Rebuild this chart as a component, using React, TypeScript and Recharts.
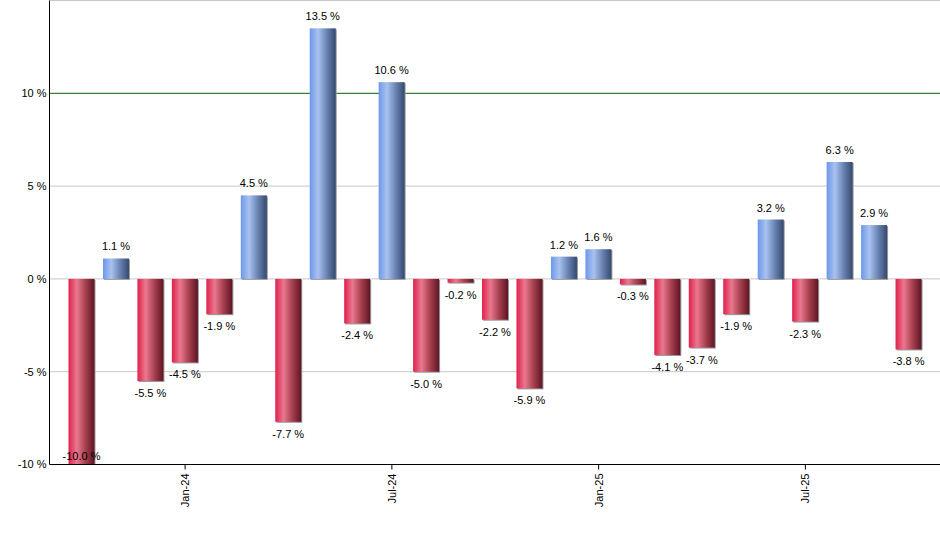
import React from "react";
import { BarChart, Bar, XAxis, YAxis, CartesianGrid, Cell, LabelList } from "recharts";

const months = [
  "Oct-23", "Nov-23", "Dec-23", "Jan-24", "Feb-24", "Mar-24", "Apr-24", "May-24", "Jun-24",
  "Jul-24", "Aug-24", "Sep-24", "Oct-24", "Nov-24", "Dec-24", "Jan-25", "Feb-25", "Mar-25",
  "Apr-25", "May-25", "Jun-25", "Jul-25", "Aug-25", "Sep-25", "Oct-25",
];
const returns = [
  -10.0, 1.1, -5.5, -4.5, -1.9, 4.5, -7.7, 13.5, -2.4, 10.6, -5.0, -0.2, -2.2,
  -5.9, 1.2, 1.6, -0.3, -4.1, -3.7, -1.9, 3.2, -2.3, 6.3, 2.9, -3.8,
];
const labelledMonths = ["Jan-24", "Jul-24", "Jan-25", "Jul-25"];
const yTicks = [-10, -5, 0, 5, 10];

const data = months.map((m, i) => ({ month: m, value: returns[i] }));

const FONT = "'Liberation Sans', Arial, sans-serif";
const PLOT_BOTTOM = 464.5;

function BarShape(props: any) {
  const { x, y, width, height, value } = props;
  const top = Math.min(y, y + height);
  const h = Math.abs(height);
  const fill = value >= 0 ? "url(#gradBlue)" : "url(#gradRed)";
  return (
    <g>
      <rect x={x + 1} y={top + 1} width={width} height={h} fill="#9a9a9a" />
      <rect x={x} y={top} width={width} height={h} fill={fill} />
    </g>
  );
}

function ValueLabel(props: any) {
  const { x, y, width, height, value } = props;
  const top = Math.min(y, y + height);
  const bottom = Math.max(y, y + height);
  const cy = value >= 0 ? top - 12 : Math.min(bottom + 12, PLOT_BOTTOM - 9);
  return (
    <text
      x={x + width / 2}
      y={cy}
      textAnchor="middle"
      dominantBaseline="central"
      fontSize={11}
      fontFamily={FONT}
      fill="#000"
    >
      {`${Number(value).toFixed(1)} %`}
    </text>
  );
}

function MonthTick(props: any) {
  const { x, y, payload } = props;
  if (!labelledMonths.includes(payload.value)) return <g />;
  return (
    <g>
      <line x1={x} y1={y} x2={x} y2={y + 5} stroke="#000" />
      <text
        x={0}
        y={0}
        transform={`translate(${x + 4}, ${y + 9}) rotate(-90)`}
        textAnchor="end"
        fontSize={11}
        fontFamily={FONT}
        fill="#000"
      >
        {payload.value}
      </text>
    </g>
  );
}

export default function App() {
  return (
    <div style={{ position: "absolute", left: 0, top: 0, width: 940, height: 550, background: "#fff" }}>
      <BarChart
        width={940}
        height={550}
        data={data}
        margin={{ top: 0.5, right: 0, bottom: 0, left: 0 }}
        barSize={26}
      >
        <defs>
          <linearGradient id="gradRed" x1="0" y1="0" x2="1" y2="0">
            <stop offset="0%" stopColor="#e0204a" />
            <stop offset="32%" stopColor="#ea7890" />
            <stop offset="65%" stopColor="#a8404f" />
            <stop offset="100%" stopColor="#5e1424" />
          </linearGradient>
          <linearGradient id="gradBlue" x1="0" y1="0" x2="1" y2="0">
            <stop offset="0%" stopColor="#6c98ea" />
            <stop offset="32%" stopColor="#a9c2ef" />
            <stop offset="65%" stopColor="#6a84b4" />
            <stop offset="100%" stopColor="#34496e" />
          </linearGradient>
        </defs>
        <CartesianGrid
          vertical={false}
          stroke="#c8c8c8"
          horizontalValues={[-5, 0, 5, 15]}
        />
        <CartesianGrid vertical={false} stroke="#006400" horizontalValues={[10]} />
        <XAxis
          dataKey="month"
          interval={0}
          tick={<MonthTick />}
          tickLine={false}
          tickSize={0}
          tickMargin={0}
          axisLine={{ stroke: "#000" }}
          height={85.5}
          padding={{ left: 15, right: 14 }}
        />
        <YAxis
          width={49.5}
          domain={[-10, 15]}
          ticks={yTicks}
          allowDataOverflow
          tickFormatter={(v) => `${v} %`}
          tick={{ fontSize: 11, fontFamily: FONT, fill: "#000" }}
          tickLine={false}
          tickSize={0}
          tickMargin={3}
          axisLine={{ stroke: "#000" }}
        />
        <Bar dataKey="value" shape={<BarShape />} isAnimationActive={false}>
          {data.map((d) => (
            <Cell key={d.month} />
          ))}
          <LabelList dataKey="value" content={<ValueLabel />} />
        </Bar>
      </BarChart>
    </div>
  );
}
